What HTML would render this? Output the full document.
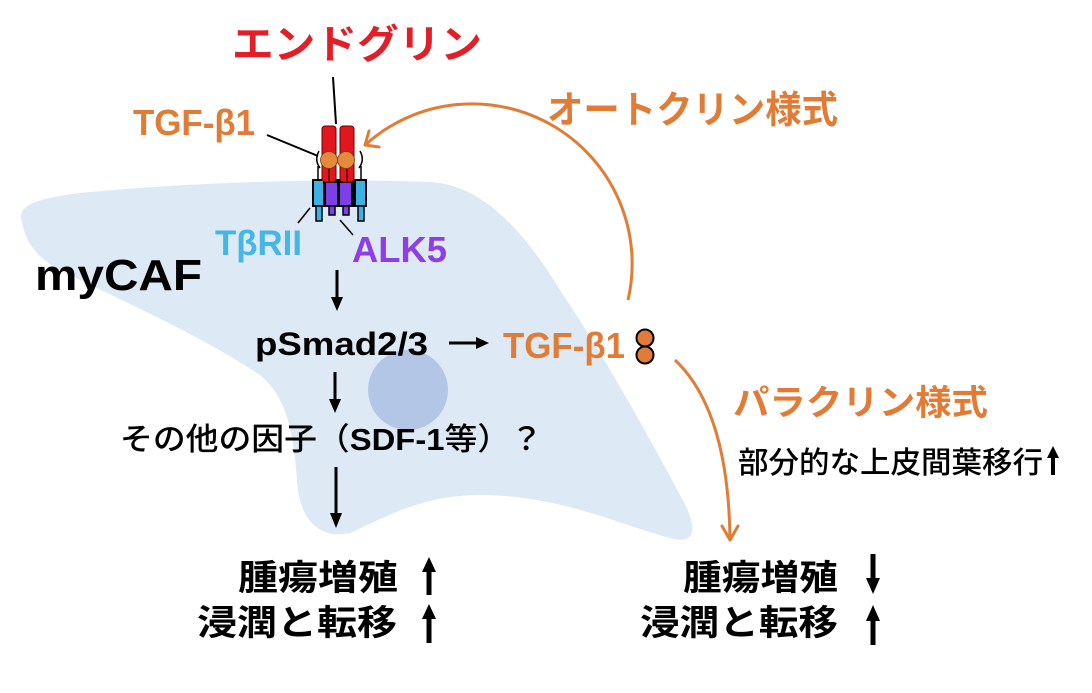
<!DOCTYPE html>
<html>
<head>
<meta charset="utf-8">
<style>
  html,body{margin:0;padding:0;background:#ffffff;}
  svg{display:block;}
  text{font-family:"Liberation Sans","Noto Sans CJK JP",sans-serif;}
</style>
</head>
<body>
<svg width="1092" height="693" viewBox="0 0 1092 693" xmlns="http://www.w3.org/2000/svg">
  <rect width="1092" height="693" fill="#ffffff"/>

  <!-- cell body -->
  <path d="M22,222 C15,205 40,197 90,192 C200,182 330,178 430,182 C480,185 520,225 560,290 C600,350 640,420 680,495 C700,530 695,545 670,538 C620,525 560,495 480,495 C420,495 380,520 350,533 C320,540 302,520 298,490 C294,440 290,400 260,375 C200,335 120,300 60,270 C35,257 25,240 22,222 Z" fill="#dde9f5"/>
  <!-- nucleus -->
  <circle cx="408" cy="390" r="40" fill="#b3c6e6"/>

  <!-- title -->
  <text x="232" y="58" font-size="40" font-weight="bold" fill="#e31e26" textLength="250" lengthAdjust="spacingAndGlyphs">エンドグリン</text>
  <line x1="333" y1="77" x2="336" y2="124" stroke="#000" stroke-width="2"/>

  <!-- TGF-b1 top -->
  <text x="133" y="135" font-size="36" font-weight="bold" fill="#e07c35" textLength="122" lengthAdjust="spacingAndGlyphs">TGF-β1</text>
  <line x1="267" y1="135" x2="318" y2="156" stroke="#000" stroke-width="2"/>

  <!-- receptor complex -->
  <g>
    <!-- black base frame -->
    <rect x="312" y="179" width="55" height="28" fill="#000"/>
    <!-- thin connecting lines -->
    <line x1="318" y1="166" x2="318" y2="180" stroke="#000" stroke-width="1.5"/>
    <line x1="361" y1="166" x2="361" y2="180" stroke="#000" stroke-width="1.5"/>
    <path d="M320,168 Q314,160 319,151" fill="none" stroke="#000" stroke-width="1.5"/>
    <path d="M359,168 Q365,160 360,151" fill="none" stroke="#000" stroke-width="1.5"/>
    <!-- red bars -->
    <rect x="322" y="126" width="14" height="56" rx="3" fill="#e3161e" stroke="#6a0000" stroke-width="1"/>
    <rect x="340" y="126" width="14" height="56" rx="3" fill="#e3161e" stroke="#6a0000" stroke-width="1"/>
    <line x1="329" y1="168" x2="329" y2="181" stroke="#000" stroke-width="1"/>
    <line x1="347" y1="168" x2="347" y2="181" stroke="#000" stroke-width="1"/>
    <!-- orange ligand -->
    <circle cx="329" cy="160" r="8.5" fill="#e58a3c" stroke="#7a3a10" stroke-width="0.8"/>
    <circle cx="346" cy="160" r="8.5" fill="#e58a3c" stroke="#7a3a10" stroke-width="0.8"/>
    <!-- blue boxes -->
    <rect x="314" y="181" width="9" height="24" fill="#3eb1e4"/>
    <rect x="356" y="181" width="9" height="24" fill="#3eb1e4"/>
    <!-- purple boxes -->
    <rect x="326" y="183" width="11" height="22" fill="#7d40e6"/>
    <rect x="340" y="183" width="11" height="22" fill="#7d40e6"/>
    <!-- stems -->
    <rect x="316" y="206" width="6" height="15" fill="#3eb1e4" stroke="#000" stroke-width="1.5"/>
    <rect x="358" y="206" width="6" height="15" fill="#3eb1e4" stroke="#000" stroke-width="1.5"/>
    <rect x="329" y="206" width="6" height="9" fill="#7d40e6" stroke="#000" stroke-width="1.5"/>
    <rect x="343" y="206" width="6" height="9" fill="#7d40e6" stroke="#000" stroke-width="1.5"/>
  </g>
  <line x1="298" y1="223" x2="310" y2="208" stroke="#000" stroke-width="1.5"/>
  <line x1="340" y1="220" x2="353" y2="235" stroke="#000" stroke-width="1.5"/>

  <!-- receptor labels -->
  <text x="215" y="255" font-size="35" font-weight="bold" fill="#45b6e8" textLength="87" lengthAdjust="spacingAndGlyphs">TβRII</text>
  <text x="352" y="262" font-size="36" font-weight="bold" fill="#8e3de8" textLength="95" lengthAdjust="spacingAndGlyphs">ALK5</text>

  <!-- myCAF -->
  <text x="35" y="290" font-size="44" font-weight="bold" fill="#000" textLength="167" lengthAdjust="spacingAndGlyphs">myCAF</text>

  <!-- arrow 1 -->
  <line x1="337" y1="270" x2="337" y2="298" stroke="#000" stroke-width="3"/>
  <polygon points="331,297 343,297 337,311" fill="#000"/>

  <!-- pSmad -->
  <text x="255" y="355" font-size="32" font-weight="bold" fill="#000" textLength="173" lengthAdjust="spacingAndGlyphs">pSmad2/3</text>
  <line x1="449" y1="343" x2="477" y2="343" stroke="#000" stroke-width="3"/>
  <polygon points="476,337 476,349 489,343" fill="#000"/>

  <!-- TGF-b1 mid -->
  <text x="503" y="358" font-size="36" font-weight="bold" fill="#e07c35" textLength="122" lengthAdjust="spacingAndGlyphs">TGF-β1</text>
  <circle cx="645" cy="338" r="8.5" fill="#e07c35" stroke="#000" stroke-width="2"/>
  <circle cx="645" cy="355" r="8.5" fill="#e07c35" stroke="#000" stroke-width="2"/>

  <!-- arrow 2 -->
  <line x1="335" y1="372" x2="335" y2="400" stroke="#000" stroke-width="3"/>
  <polygon points="329,399 341,399 335,413" fill="#000"/>

  <!-- other factors -->
  <text x="120" y="450" font-size="31" font-weight="500" fill="#000" textLength="423" lengthAdjust="spacingAndGlyphs">その他の因子（<tspan font-weight="bold">SDF-1</tspan>等）？</text>

  <!-- arrow 3 -->
  <line x1="336" y1="467" x2="336" y2="514" stroke="#000" stroke-width="3"/>
  <polygon points="330,513 342,513 336,528" fill="#000"/>

  <!-- autocrine arc -->
  <path d="M628,300 A160,160 0 0 0 365,145" fill="none" stroke="#e07c35" stroke-width="3"/>
  <polyline points="369,131 365,145 379,147" fill="none" stroke="#e07c35" stroke-width="3" stroke-linecap="round" stroke-linejoin="round"/>
  <text x="547" y="123" font-size="38" font-weight="bold" fill="#e07c35" textLength="291" lengthAdjust="spacingAndGlyphs">オートクリン様式</text>

  <!-- paracrine arc -->
  <path d="M675,360 Q728,410 730,538" fill="none" stroke="#e07c35" stroke-width="3"/>
  <polyline points="722,526 730,540 738,526" fill="none" stroke="#e07c35" stroke-width="3" stroke-linecap="round" stroke-linejoin="round"/>
  <text x="733" y="415" font-size="35" font-weight="bold" fill="#e07c35" textLength="255" lengthAdjust="spacingAndGlyphs">パラクリン様式</text>

  <text x="738" y="473" font-size="30" font-weight="500" fill="#000" textLength="305" lengthAdjust="spacingAndGlyphs">部分的な上皮間葉移行</text>
  <line x1="1053" y1="456" x2="1053" y2="475" stroke="#000" stroke-width="4"/>
  <polygon points="1047,458 1059,458 1053,446" fill="#000"/>

  <!-- bottom left -->
  <text x="238" y="590" font-size="35" font-weight="bold" fill="#000" textLength="160" lengthAdjust="spacingAndGlyphs">腫瘍増殖</text>
  <text x="197" y="635" font-size="35" font-weight="bold" fill="#000" textLength="200" lengthAdjust="spacingAndGlyphs">浸潤と転移</text>
  <line x1="429" y1="570" x2="429" y2="595" stroke="#000" stroke-width="5"/>
  <polygon points="422,572 436,572 429,557" fill="#000"/>
  <line x1="429" y1="617" x2="429" y2="643" stroke="#000" stroke-width="5"/>
  <polygon points="422,619 436,619 429,604" fill="#000"/>

  <!-- bottom right -->
  <text x="683" y="590" font-size="35" font-weight="bold" fill="#000" textLength="155" lengthAdjust="spacingAndGlyphs">腫瘍増殖</text>
  <text x="640" y="635" font-size="35" font-weight="bold" fill="#000" textLength="198" lengthAdjust="spacingAndGlyphs">浸潤と転移</text>
  <line x1="873" y1="554" x2="873" y2="580" stroke="#000" stroke-width="5"/>
  <polygon points="866,578 880,578 873,594" fill="#000"/>
  <line x1="873" y1="619" x2="873" y2="645" stroke="#000" stroke-width="5"/>
  <polygon points="866,621 880,621 873,605" fill="#000"/>
</svg>
</body>
</html>
